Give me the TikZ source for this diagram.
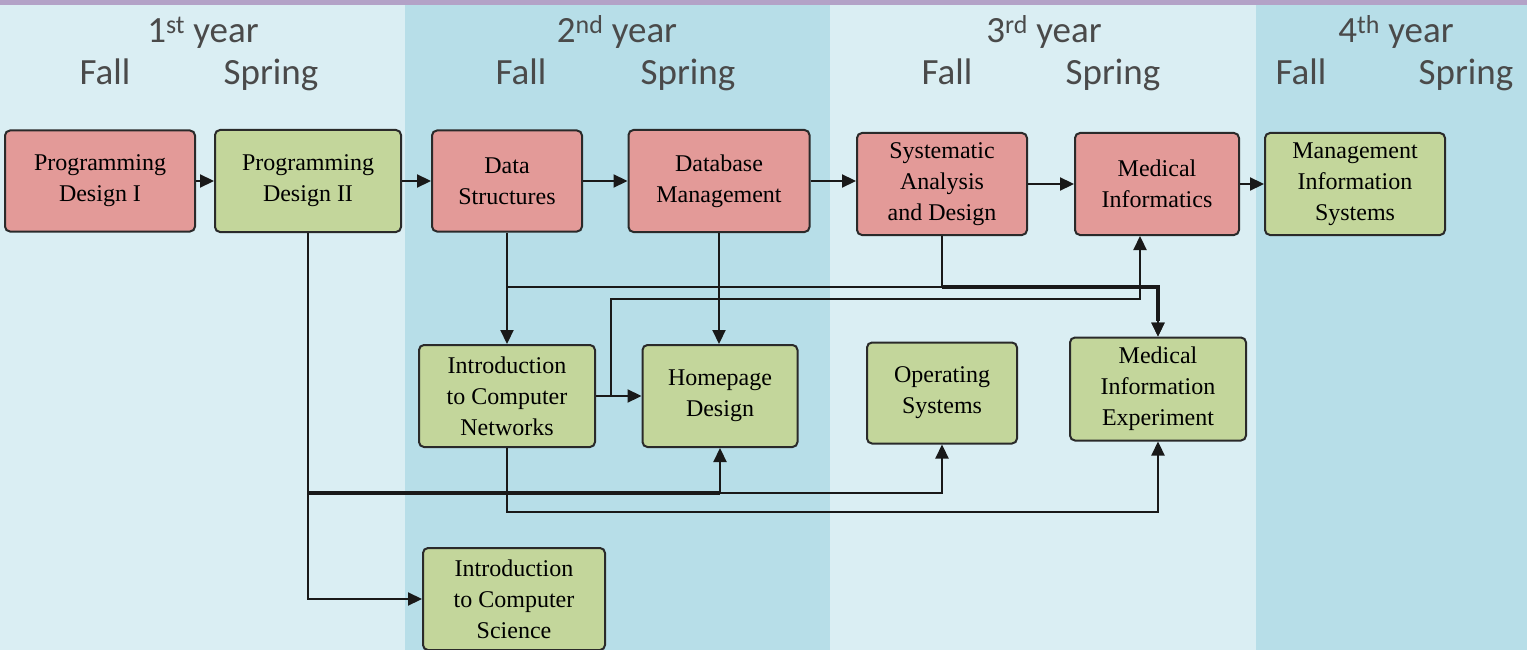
\documentclass[tikz,border=0pt]{standalone}
\usepackage{fontspec}
\setmainfont{Liberation Serif}
\newfontfamily\hdrfont{Carlito}
\usetikzlibrary{arrows.meta}
\definecolor{bglight}{HTML}{DAEEF3}
\definecolor{bgdark}{HTML}{B7DEE8}
\definecolor{topbar}{HTML}{B3A2C7}
\definecolor{redbox}{HTML}{E39A98}
\definecolor{greenbox}{HTML}{C3D69B}
\definecolor{hdrtext}{HTML}{4A4A4A}
\definecolor{edge}{HTML}{2A2A2A}
\tikzset{
  course/.style={draw=edge, line width=2pt, rounded corners=5pt, align=center,
    inner sep=0pt, text=black, font=\fontsize{24}{31}\selectfont},
  req/.style={course, fill=redbox},
  opt/.style={course, fill=greenbox},
  hdr/.style={anchor=base, text=hdrtext, font=\hdrfont\fontsize{37}{40}\selectfont, inner sep=0pt},
  conn/.style={draw=black!90, line width=2.2pt, -{Triangle[length=14pt,width=13pt]}},
  shared/.style={draw=black!90, line width=3.4pt},
}
\begin{document}
\begin{tikzpicture}[x=1pt,y=-1pt]
\clip (0,0) rectangle (1527,650);
\useasboundingbox (0,0) rectangle (1527,650);
% backgrounds
\fill[bglight] (0,0) rectangle (405,650);
\fill[bgdark] (405,0) rectangle (830,650);
\fill[bglight] (830,0) rectangle (1256,650);
\fill[bgdark] (1256,0) rectangle (1527,650);
\fill[topbar] (0,0) rectangle (1527,5);
% headers
\node[hdr] (y1) at (203,43) {1\textsuperscript{st} year};
\node[hdr] (f1) at (105,85) {Fall};
\node[hdr] (s1) at (271,85) {Spring};
\node[hdr] (y2) at (617,43) {2\textsuperscript{nd} year};
\node[hdr] (f2) at (521,85) {Fall};
\node[hdr] (s2) at (688,85) {Spring};
\node[hdr] (y3) at (1044,43) {3\textsuperscript{rd} year};
\node[hdr] (f3) at (947,85) {Fall};
\node[hdr] (s3) at (1113,85) {Spring};
\node[hdr] (y4) at (1396,43) {4\textsuperscript{th} year};
\node[hdr] (f4) at (1301,85) {Fall};
\node[hdr] (s4) at (1466,85) {Spring};
% courses
\node[req, minimum width=190pt, minimum height=101pt] (pd1) at (100,181) {Programming\\Design I};
\node[opt, minimum width=186pt, minimum height=102pt] (pd2) at (308,181) {Programming\\Design II};
\node[req, minimum width=150pt, minimum height=101pt] (ds) at (507,181) {Data\\Structures};
\node[req, minimum width=181pt, minimum height=102pt] (dbm) at (719,181) {Database\\Management};
\node[req, minimum width=170pt, minimum height=102pt] (sad) at (942,184) {Systematic\\Analysis\\and Design};
\node[req, minimum width=164pt, minimum height=102pt] (mi) at (1157,184) {Medical\\Informatics};
\node[opt, minimum width=180pt, minimum height=102pt] (mis) at (1355,184) {Management\\Information\\Systems};
\node[opt, minimum width=176pt, minimum height=102pt] (icn) at (507,396) {Introduction\\to Computer\\Networks};
\node[opt, minimum width=155pt, minimum height=102pt] (hd) at (720,396) {Homepage\\Design};
\node[opt, minimum width=150pt, minimum height=101pt] (os) at (942,393) {Operating\\Systems};
\node[opt, minimum width=176pt, minimum height=103pt] (mie) at (1158,389) {Medical\\Information\\Experiment};
\node[opt, minimum width=182pt, minimum height=102pt] (ics) at (514,599) {Introduction\\to Computer\\Science};
% junction coordinates
\coordinate (jA) at (0,287);
\coordinate (jB) at (611,299);
\coordinate (jC) at (0,493);
\coordinate (jD) at (0,512);
% top row chain
\draw[conn] (pd1.east) -- (pd2.west);
\draw[conn] (pd2.east) -- (ds.west);
\draw[conn] (ds.east) -- (dbm.west);
\draw[conn] (dbm.east) -- (sad.west |- dbm.east);
\draw[conn] (sad.east) -- (mi.west);
\draw[conn] (mi.east) -- (mis.west);
% downward links
\draw[conn] (ds.south) -- (ds.south |- icn.north);
\draw[conn] (dbm.south) -- (dbm.south |- hd.north);
\draw[conn] (ds.south |- jA) -| (mie.north);
\draw[conn] (sad.south) -- (sad.south |- jA) -| (mie.north);
\draw[shared] (sad.south |- jA) -| ([yshift=16pt]mie.north);
\draw[conn] (icn.east) -- (icn.east -| hd.west);
\draw[conn] (icn.east) -| (jB) -| ([xshift=-17pt]mi.south);
% lower links
\draw[conn] (pd2.south) -- (pd2.south |- jC) -| (hd.south);
\draw[shared] (pd2.south |- jC) -- (hd.south |- jC);
\draw[conn] (hd.south |- jC) -| (os.south);
\draw[conn] (pd2.south) |- (ics.west);
\draw[conn] (icn.south) -- (icn.south |- jD) -| (mie.south);
\end{tikzpicture}
\end{document}
